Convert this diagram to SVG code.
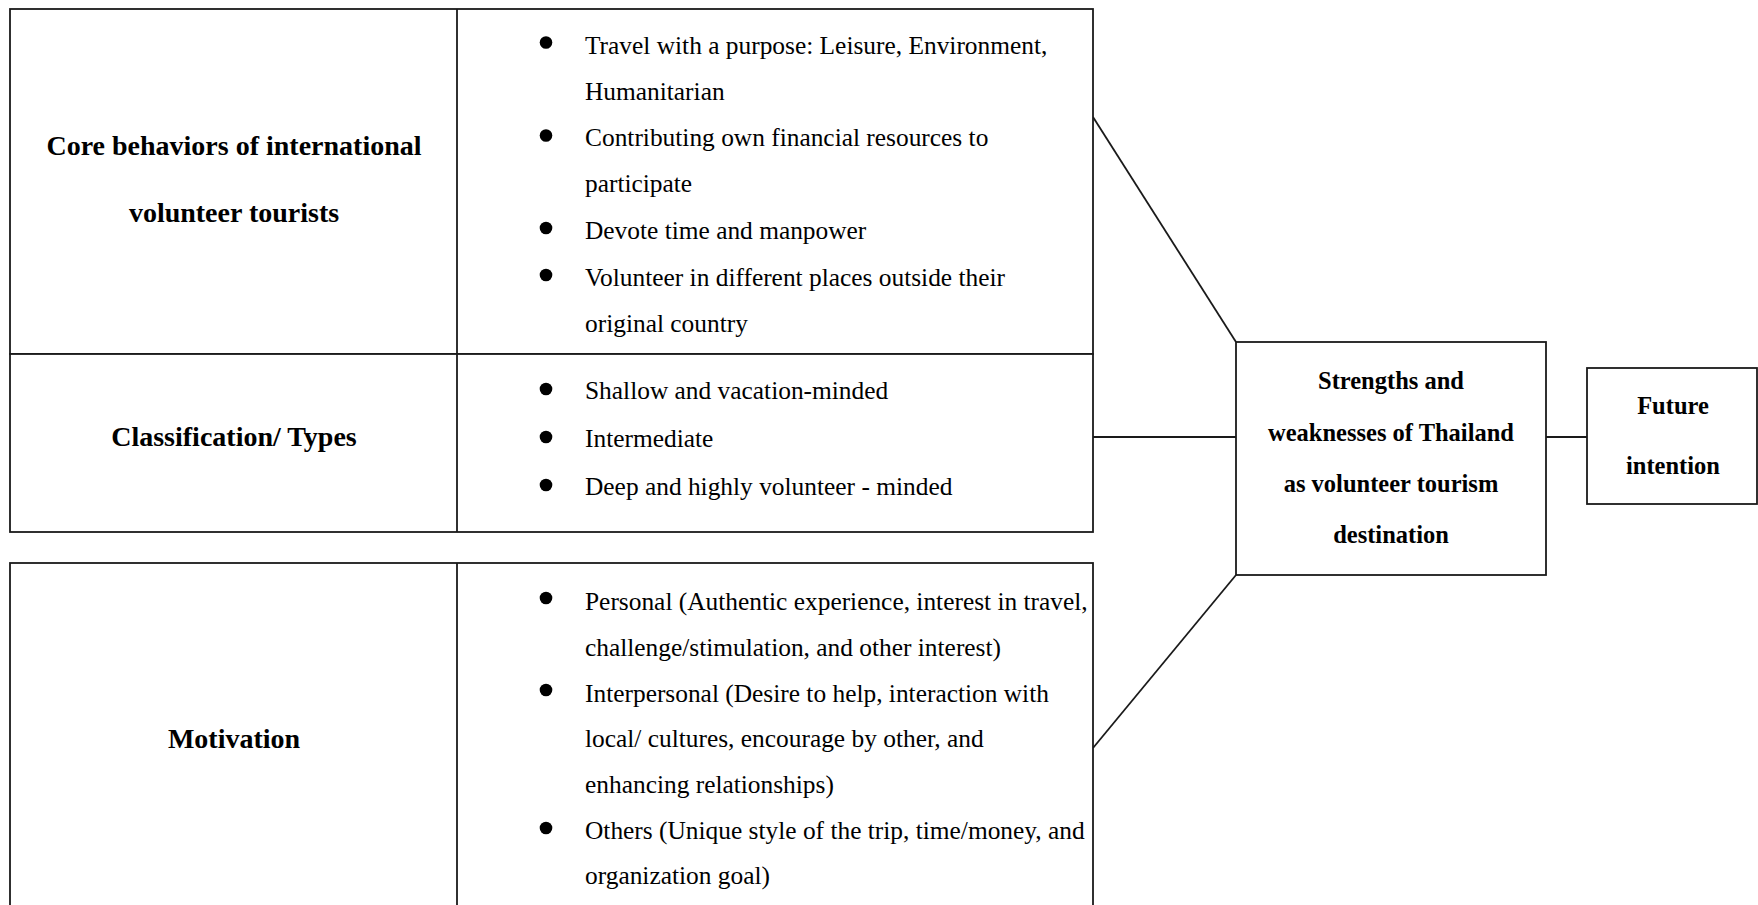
<svg xmlns="http://www.w3.org/2000/svg" width="1758" height="905" viewBox="0 0 1758 905">
<style>
.box{fill:#fff;stroke:#1a1a1a;stroke-width:1.8}
.ln{stroke:#1a1a1a;stroke-width:1.8;fill:none}
.h{font-family:"Liberation Serif","Times New Roman",serif;font-weight:bold;font-size:28px;fill:#000;text-anchor:middle}
.hs{font-family:"Liberation Serif","Times New Roman",serif;font-weight:bold;font-size:24.5px;fill:#000;text-anchor:middle}
.t{font-family:"Liberation Serif","Times New Roman",serif;font-size:25.4px;fill:#000}
.b{fill:#000}
</style>
<rect width="1758" height="905" fill="#fff"/>
<g id="connectors">
<line class="ln" x1="1093" y1="117" x2="1236" y2="342"/>
<line class="ln" x1="1093" y1="437" x2="1236" y2="437"/>
<line class="ln" x1="1093" y1="748" x2="1236" y2="575"/>
<line class="ln" x1="1546" y1="437" x2="1587" y2="437"/>
</g>
<g id="core-behaviors">
<rect class="box" x="10" y="9" width="1083" height="345"/>
<line class="ln" x1="457" y1="9" x2="457" y2="354"/>
<text class="h" x="234" y="155">Core behaviors of international</text>
<text class="h" x="234" y="222">volunteer tourists</text>
<circle class="b" cx="546" cy="42.5" r="6.3"/>
<circle class="b" cx="546" cy="135.5" r="6.3"/>
<circle class="b" cx="546" cy="228" r="6.3"/>
<circle class="b" cx="546" cy="275" r="6.3"/>
<text class="t" x="585" y="54">Travel with a purpose: Leisure, Environment,</text>
<text class="t" x="585" y="100">Humanitarian</text>
<text class="t" x="585" y="146">Contributing own financial resources to</text>
<text class="t" x="585" y="192">participate</text>
<text class="t" x="585" y="239">Devote time and manpower</text>
<text class="t" x="585" y="286">Volunteer in different places outside their</text>
<text class="t" x="585" y="332">original country</text>
</g>
<g id="classification">
<rect class="box" x="10" y="354" width="1083" height="178"/>
<line class="ln" x1="457" y1="354" x2="457" y2="532"/>
<text class="h" x="234" y="446">Classification/ Types</text>
<circle class="b" cx="546" cy="389" r="6.3"/>
<circle class="b" cx="546" cy="437" r="6.3"/>
<circle class="b" cx="546" cy="485" r="6.3"/>
<text class="t" x="585" y="399">Shallow and vacation-minded</text>
<text class="t" x="585" y="447">Intermediate</text>
<text class="t" x="585" y="495">Deep and highly volunteer - minded</text>
</g>
<g id="motivation">
<rect class="box" x="10" y="563" width="1083" height="360"/>
<line class="ln" x1="457" y1="563" x2="457" y2="905"/>
<text class="h" x="234" y="748">Motivation</text>
<circle class="b" cx="546" cy="598" r="6.3"/>
<circle class="b" cx="546" cy="690" r="6.3"/>
<circle class="b" cx="546" cy="828" r="6.3"/>
<text class="t" x="585" y="610">Personal (Authentic experience, interest in travel,</text>
<text class="t" x="585" y="656">challenge/stimulation, and other interest)</text>
<text class="t" x="585" y="702">Interpersonal (Desire to help, interaction with</text>
<text class="t" x="585" y="747">local/ cultures, encourage by other, and</text>
<text class="t" x="585" y="793">enhancing relationships)</text>
<text class="t" x="585" y="839">Others (Unique style of the trip, time/money, and</text>
<text class="t" x="585" y="884">organization goal)</text>
</g>
<g id="strengths-weaknesses">
<rect class="box" x="1236" y="342" width="310" height="233"/>
<text class="hs" x="1391" y="389">Strengths and</text>
<text class="hs" x="1391" y="441">weaknesses of Thailand</text>
<text class="hs" x="1391" y="492">as volunteer tourism</text>
<text class="hs" x="1391" y="543">destination</text>
</g>
<g id="future-intention">
<rect class="box" x="1587" y="368" width="170" height="136"/>
<text class="hs" x="1673" y="414">Future</text>
<text class="hs" x="1673" y="474">intention</text>
</g>
</svg>
